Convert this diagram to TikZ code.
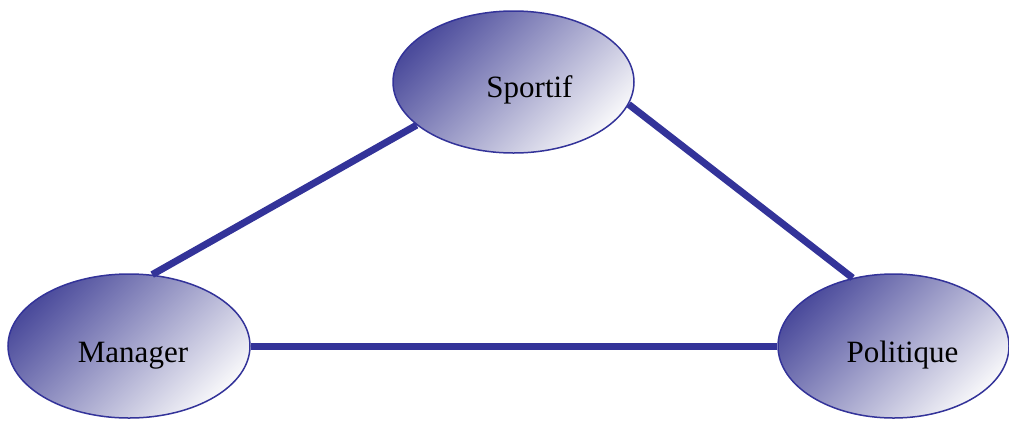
\documentclass[tikz,border=0pt]{standalone}
\usepackage{fontspec}
\setmainfont{Liberation Serif}
\usetikzlibrary{shapes.geometric}
\definecolor{lineblue}{HTML}{333399}
\definecolor{darkfill}{HTML}{4C4C9C}
\definecolor{lightfill}{HTML}{F6F6F9}
\tikzset{
  oval/.style={ellipse, draw=lineblue, line width=1.5pt, inner sep=0pt,
    top color=darkfill, bottom color=lightfill, shading angle=45},
  lbl/.style={anchor=base, font=\fontsize{31}{37}\selectfont, inner sep=0pt},
  link/.style={draw=lineblue, line width=7pt}
}
\begin{document}
\begin{tikzpicture}[x=1pt,y=-1pt]
\useasboundingbox (0,0) rectangle (1009,421);
\node[oval, minimum width=241pt, minimum height=142pt] (S) at (513.5,82) {};
\node[oval, minimum width=242pt, minimum height=144pt] (M) at (129,346) {};
\node[oval, minimum width=231pt, minimum height=144pt] (P) at (893.5,346) {};
\node[lbl] (St) at (529.5,97) {Sportif};
\node[lbl] (Mt) at (133,362) {Manager};
\node[lbl] (Pt) at (902.5,362) {Politique};
\draw[link] (S.204) -- (M.72);
\draw[link] (S.-11) -- (P.121.5);
\draw[link] (M.east) -- (P.west);
\end{tikzpicture}
\end{document}
